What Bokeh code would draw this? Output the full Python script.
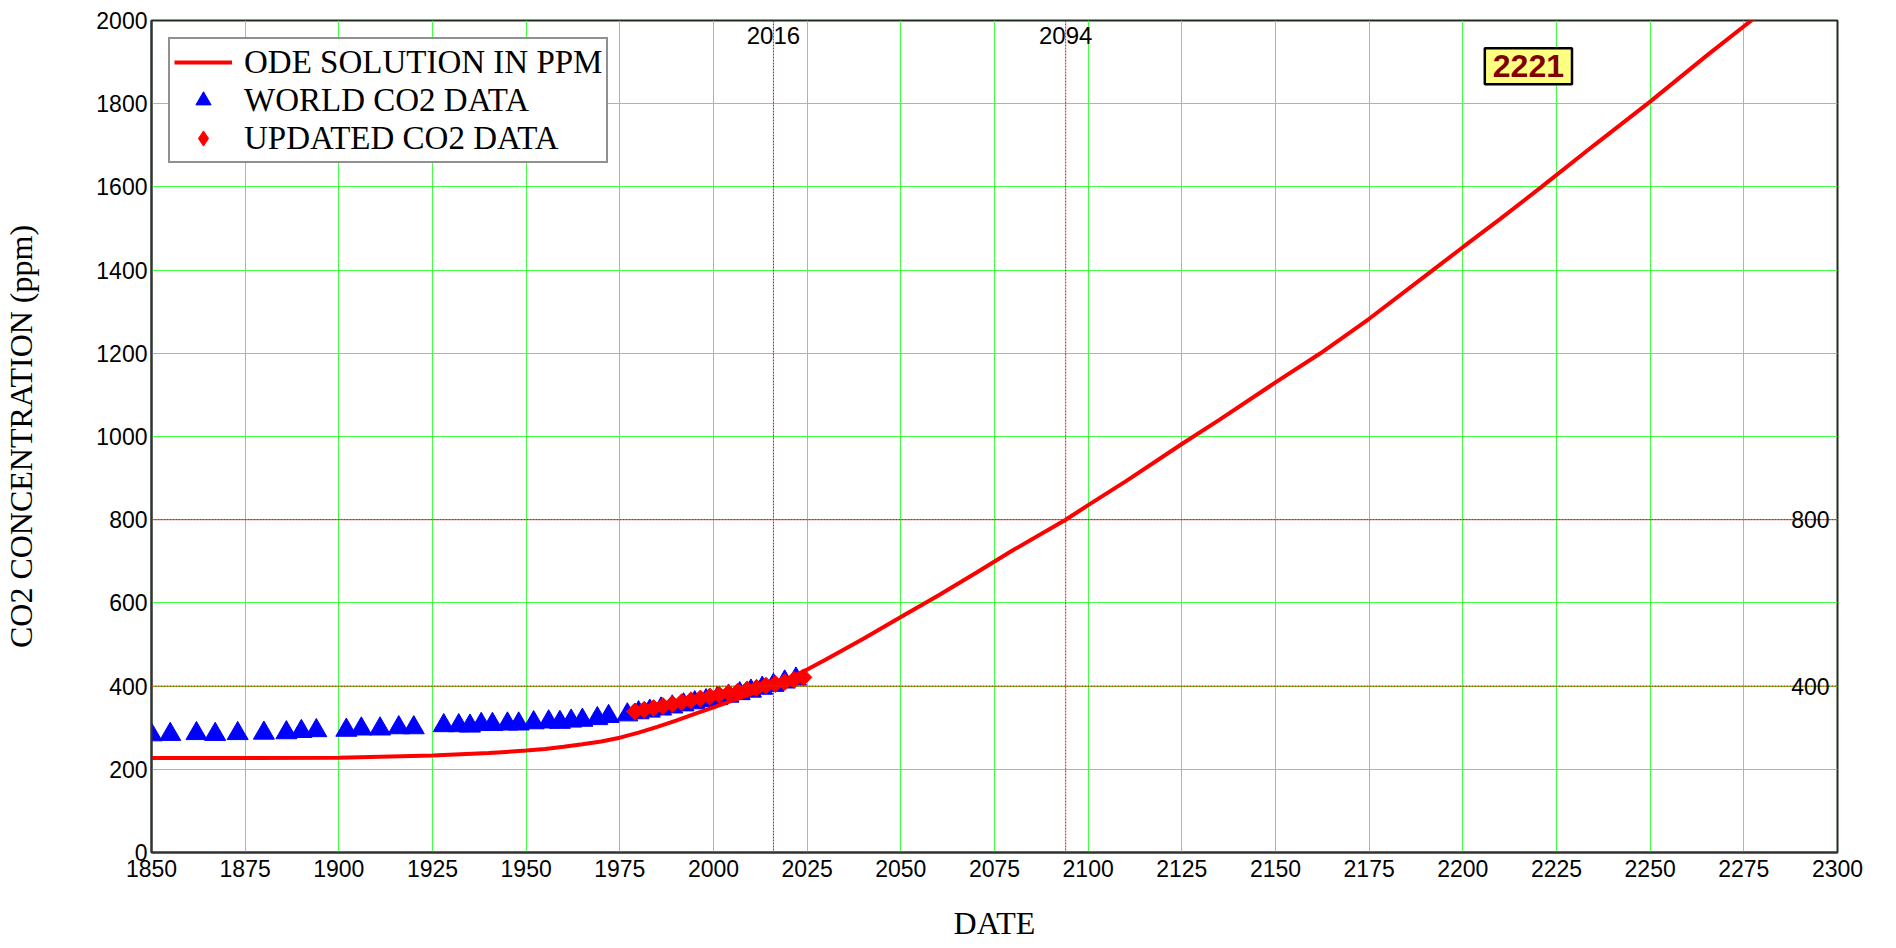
from bokeh.plotting import figure
from bokeh.models import Range1d, FixedTicker, Span, Label, Legend, LegendItem
from bokeh.embed import file_html
from bokeh.resources import INLINE

# ---------------- data ----------------
ode_years = [1850, 1875, 1900, 1925, 1940, 1950, 1955, 1960, 1965, 1970, 1975,
             1980, 1985, 1990, 1995, 2000, 2005, 2010, 2015, 2020, 2025, 2030,
             2040, 2050, 2060, 2070, 2080, 2094, 2100, 2110, 2125, 2135, 2150,
             2162, 2175, 2192, 2200, 2210, 2221, 2235, 2250, 2265, 2277, 2290]
ode_ppm = [227, 227, 228, 233, 239, 245, 249, 254, 260, 267, 276,
           288, 302, 317, 333, 349, 365, 381, 398, 418, 440, 464,
           514, 566, 618, 672, 727, 800, 835, 892, 982, 1040, 1130,
           1200, 1283, 1400, 1455, 1523, 1600, 1700, 1805, 1915, 2000, 2100]

world_years = [1850, 1855, 1862, 1867, 1873, 1880, 1886, 1890, 1894, 1902,
               1906, 1911, 1916, 1920, 1928, 1932, 1935, 1938, 1941, 1945,
               1948, 1952, 1956, 1959, 1962, 1965, 1969, 1972, 1977, 1980,
               1983, 1986, 1989, 1992, 1995, 1998, 2001, 2004, 2007, 2010,
               2013, 2016, 2019, 2022]
world_ppm = [283, 284, 286, 284, 286, 287, 288, 291, 293, 294,
             297, 297, 300, 300, 305, 305, 304, 308, 308, 309,
             309, 312, 314, 313, 316, 318, 322, 327, 331, 336,
             340, 345, 350, 355, 360, 365, 370, 376, 382, 388,
             395, 402, 410, 417]

upd_years = [1979, 1981.5, 1984, 1986.5, 1989, 1991.5, 1994, 1996.5, 1999,
             2001.5, 2004, 2006.5, 2009, 2011.5, 2014, 2016.5, 2019, 2021.5, 2024]
upd_ppm = [339, 343, 347, 352, 357, 361, 366, 370, 375,
           379, 383, 387, 392, 396, 401, 405, 410, 415, 421]

x_ticks = list(range(1850, 2301, 25))
y_ticks = list(range(0, 2001, 200))
marker_years = [2016, 2094]
marker_levels = [400, 800]
callout_text = "2221"
callout_x = 2217.5
callout_y = 1890

X0, X1 = 1850, 2300
Y0, Y1 = 0, 2000

# ---------------- figure ----------------
p = figure(frame_width=1686, frame_height=832,
           x_range=Range1d(X0, X1), y_range=Range1d(Y0, Y1),
           output_backend="svg", toolbar_location=None,
           min_border_left=151, min_border_right=45,
           min_border_top=20, min_border_bottom=96,
           background_fill_color="white", border_fill_color="white")

p.outline_line_color = "#1e2e1e"
p.outline_line_width = 2

for g, t in ((p.xgrid, x_ticks), (p.ygrid, y_ticks)):
    g.ticker = FixedTicker(ticks=t)
    g.grid_line_color = "#44ff44"
    g.grid_line_width = 1

p.xaxis.ticker = FixedTicker(ticks=x_ticks)
p.yaxis.ticker = FixedTicker(ticks=y_ticks)
for ax in (p.xaxis, p.yaxis):
    ax.major_tick_line_color = None
    ax.minor_tick_line_color = None
    ax.major_tick_out = 0
    ax.major_tick_in = 0
    ax.axis_line_color = "#333333"
    ax.axis_line_width = 2
    ax.major_label_text_font = "Liberation Sans"
    ax.major_label_text_font_size = "23px"
    ax.major_label_text_color = "black"
    ax.axis_label_text_font = "Liberation Serif"
    ax.axis_label_text_font_size = "32px"
    ax.axis_label_text_font_style = "normal"
    ax.axis_label_text_color = "black"

p.xaxis.axis_label = "DATE"
p.yaxis.axis_label = "CO2 CONCENTRATION (ppm)"
p.xaxis.major_label_standoff = 7
p.xaxis.axis_label_standoff = 25
p.yaxis.major_label_standoff = 4
p.yaxis.axis_label_standoff = 54

# reference lines
for yr in marker_years:
    p.add_layout(Span(location=yr, dimension="height", line_color="#ff0000",
                      line_width=1, line_dash="2 1"))
    p.add_layout(Label(x=yr, y=Y1, y_offset=-6, text=str(yr),
                       text_align="center", text_baseline="top",
                       text_font="Liberation Sans", text_font_size="24px",
                       text_color="black"))
for lv in marker_levels:
    p.add_layout(Span(location=lv, dimension="width", line_color="#e02000",
                      line_width=1.2, line_dash="2 1"))
    p.add_layout(Label(x=X1, y=lv, x_offset=-8, text=str(lv),
                       text_align="right", text_baseline="middle",
                       text_font="Liberation Sans", text_font_size="23px",
                       text_color="black"))

# data
r_world = p.scatter(world_years, world_ppm, marker="triangle", size=21,
                    fill_color="#0000ff", line_color="#0000ff")
r_upd = p.scatter(upd_years, upd_ppm, marker="square", size=12, angle=0.785398,
                  fill_color="#ff0000", line_color="#ff0000")
# legend key for the updated series: the first updated point drawn as a
# diamond (it sits entirely inside the rotated square above, so it is hidden)
r_upd_key = p.scatter(upd_years[:1], upd_ppm[:1], marker="diamond", size=17,
                      fill_color="#ff0000", line_color="#ff0000")
r_ode = p.line(ode_years, ode_ppm, line_color="#ff0000", line_width=4)

# callout
p.add_layout(Label(x=callout_x, y=callout_y, text=callout_text,
                   text_align="center", text_baseline="middle",
                   text_font="Liberation Sans", text_font_size="32px",
                   text_font_style="bold", text_color="#800000",
                   background_fill_color="#ffff80",
                   border_line_color="black", border_line_width=2.5,
                   padding=(8, 7)))

legend = Legend(items=[
    LegendItem(label="ODE SOLUTION IN PPM", renderers=[r_ode]),
    LegendItem(label="WORLD CO2 DATA", renderers=[r_world]),
    LegendItem(label="UPDATED CO2 DATA", renderers=[r_upd_key]),
], location="top_left")
legend.margin = 17
legend.padding = 4
legend.spacing = 0
legend.label_height = 38
legend.glyph_height = 38
legend.glyph_width = 58
legend.label_standoff = 12
legend.label_text_font = "Liberation Serif"
legend.label_text_font_size = "33px"
legend.label_text_color = "black"
legend.label_text_baseline = "middle"
legend.border_line_color = "#222222"
legend.border_line_width = 2
legend.background_fill_color = "white"
legend.background_fill_alpha = 1.0
p.add_layout(legend)

open("out.html", "w").write(file_html(p, INLINE))
